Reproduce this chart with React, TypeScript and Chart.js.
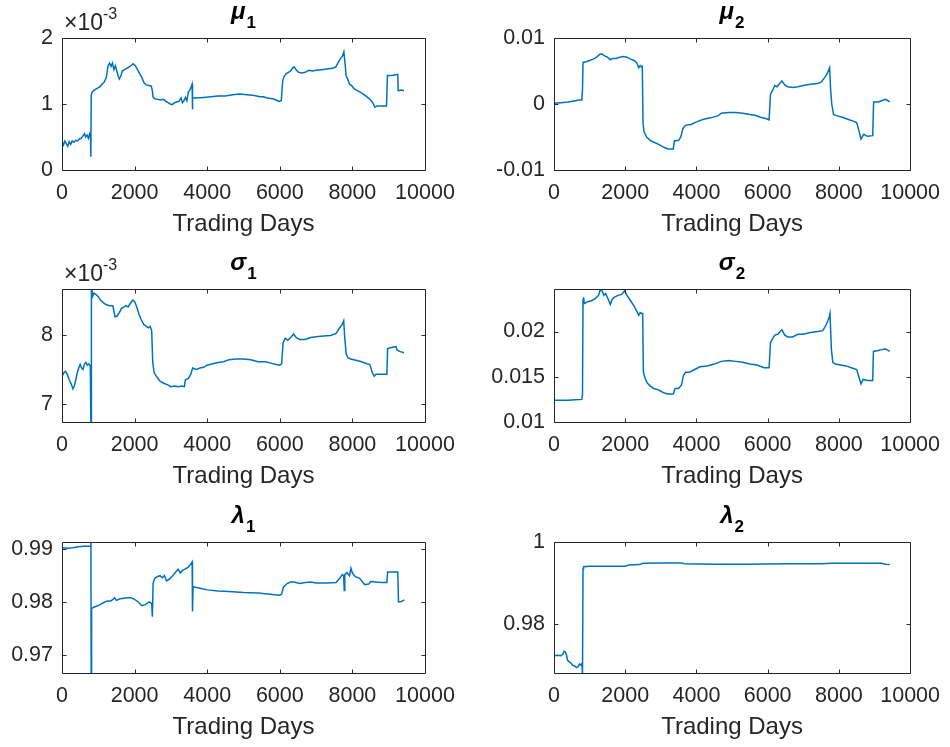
import React, { useEffect, useRef } from "react";
import { Chart, registerables } from "chart.js";

Chart.register(...registerables);

// ---------- shared axis data ----------
const xTicks = [0, 2000, 4000, 6000, 8000, 10000];
const xTickLabels = ["0", "2000", "4000", "6000", "8000", "10000"];
const xLabel = "Trading Days";

// ---------- mu_1 (values in units of 1e-3) ----------
const mu1Days = [0, 40, 80, 120, 160, 200, 240, 280, 330, 380, 430, 480, 530, 580, 620, 650, 690, 730, 760, 785, 795, 805, 830, 870, 920, 980, 1040, 1100, 1160, 1220, 1270, 1310, 1350, 1390, 1430, 1470, 1510, 1550, 1580, 1620, 1660, 1720, 1780, 1840, 1900, 1960, 2020, 2080, 2140, 2200, 2260, 2320, 2400, 2460, 2490, 2510, 2560, 2640, 2720, 2800, 2860, 2920, 2980, 3040, 3100, 3160, 3220, 3280, 3320, 3360, 3400, 3440, 3480, 3520, 3560, 3585, 3592, 3600, 3700, 3900, 4100, 4300, 4500, 4700, 4900, 5100, 5300, 5450, 5550, 5650, 5800, 5900, 5980, 6040, 6080, 6120, 6180, 6240, 6300, 6360, 6400, 6460, 6520, 6600, 6700, 6800, 6900, 7000, 7150, 7300, 7450, 7540, 7600, 7660, 7720, 7765, 7800, 7830, 7870, 7920, 7980, 8050, 8150, 8250, 8350, 8420, 8500, 8560, 8620, 8680, 8800, 8940, 8965, 9050, 9150, 9250, 9262, 9350, 9420];
const mu1Vals = [0.43, 0.38, 0.44, 0.40, 0.36, 0.43, 0.39, 0.44, 0.42, 0.45, 0.44, 0.47, 0.48, 0.52, 0.55, 0.50, 0.53, 0.48, 0.55, 0.52, 0.20, 1.13, 1.18, 1.20, 1.22, 1.24, 1.26, 1.30, 1.33, 1.40, 1.58, 1.62, 1.57, 1.62, 1.52, 1.58, 1.50, 1.42, 1.38, 1.42, 1.50, 1.52, 1.54, 1.56, 1.58, 1.61, 1.58, 1.52, 1.46, 1.40, 1.32, 1.29, 1.28, 1.27, 1.20, 1.10, 1.08, 1.07, 1.06, 1.07, 1.04, 1.02, 1.00, 0.99, 1.02, 1.03, 1.04, 1.09, 1.02, 1.05, 1.10, 1.05, 1.18, 1.21, 1.26, 1.30, 0.92, 1.09, 1.09, 1.10, 1.11, 1.12, 1.12, 1.14, 1.15, 1.14, 1.13, 1.11, 1.11, 1.09, 1.08, 1.06, 1.04, 1.05, 1.35, 1.42, 1.46, 1.48, 1.50, 1.55, 1.56, 1.51, 1.48, 1.47, 1.48, 1.51, 1.50, 1.51, 1.52, 1.53, 1.54, 1.56, 1.62, 1.68, 1.72, 1.79, 1.60, 1.42, 1.38, 1.30, 1.28, 1.23, 1.20, 1.17, 1.13, 1.10, 1.06, 1.02, 0.95, 0.97, 0.97, 0.97, 1.43, 1.43, 1.44, 1.45, 1.20, 1.21, 1.20];
const mu1Ticks = [0, 1, 2];
const mu1TickLabels = ["0", "1", "2"];

// ---------- mu_2 ----------
const mu2Days = [0, 200, 400, 600, 700, 780, 800, 815, 900, 1000, 1100, 1200, 1280, 1340, 1420, 1500, 1580, 1650, 1750, 1850, 1950, 2050, 2150, 2250, 2330, 2380, 2420, 2460, 2480, 2500, 2530, 2600, 2700, 2800, 2900, 3000, 3100, 3200, 3350, 3380, 3500, 3560, 3620, 3700, 3850, 4000, 4200, 4400, 4600, 4700, 4900, 5100, 5300, 5500, 5650, 5800, 5950, 6040, 6080, 6150, 6200, 6260, 6320, 6400, 6480, 6560, 6700, 6850, 7000, 7200, 7400, 7500, 7600, 7680, 7740, 7770, 7800, 7850, 7950, 8100, 8250, 8400, 8500, 8560, 8620, 8700, 8800, 8950, 8975, 9100, 9200, 9300, 9380, 9430];
const mu2Vals = [0.0001, 0.0002, 0.0003, 0.0005, 0.0006, 0.0006, 0.0021, 0.0063, 0.0064, 0.0066, 0.0068, 0.0071, 0.0075, 0.0076, 0.0073, 0.0071, 0.0067, 0.0069, 0.0069, 0.0071, 0.0072, 0.0071, 0.0068, 0.0066, 0.0062, 0.0055, 0.0058, 0.0056, 0.0057, -0.0030, -0.0042, -0.0050, -0.0055, -0.0058, -0.0060, -0.0063, -0.0066, -0.0068, -0.0068, -0.0056, -0.0055, -0.0050, -0.0037, -0.0032, -0.0031, -0.0027, -0.0023, -0.0021, -0.0018, -0.0014, -0.0013, -0.0013, -0.0014, -0.0016, -0.0017, -0.0020, -0.0022, -0.0024, 0.0015, 0.0022, 0.0028, 0.0026, 0.0030, 0.0035, 0.0029, 0.0026, 0.0025, 0.0026, 0.0028, 0.0030, 0.0031, 0.0033, 0.0040, 0.0047, 0.0055, 0.0020, 0.0000, -0.0016, -0.0018, -0.0020, -0.0023, -0.0026, -0.0028, -0.0040, -0.0053, -0.0046, -0.0049, -0.0048, 0.0003, 0.0003, 0.0005, 0.0007, 0.0005, 0.0003];
const mu2Ticks = [-0.01, 0, 0.01];
const mu2TickLabels = ["-0.01", "0", "0.01"];

// ---------- sigma_1 (values in units of 1e-3) ----------
const sigma1Days = [0, 50, 100, 150, 200, 260, 300, 340, 380, 420, 460, 500, 540, 580, 620, 660, 700, 740, 780, 800, 810, 840, 880, 940, 1000, 1060, 1120, 1200, 1300, 1400, 1460, 1520, 1580, 1640, 1700, 1760, 1820, 1880, 1950, 2000, 2060, 2120, 2180, 2250, 2320, 2380, 2430, 2470, 2500, 2540, 2600, 2700, 2800, 2900, 3000, 3100, 3200, 3300, 3370, 3400, 3480, 3540, 3600, 3700, 3800, 3900, 4000, 4150, 4300, 4450, 4600, 4800, 5000, 5200, 5400, 5600, 5750, 5900, 6000, 6050, 6090, 6150, 6220, 6300, 6380, 6450, 6550, 6700, 6850, 7000, 7200, 7400, 7550, 7650, 7720, 7760, 7790, 7830, 7880, 7950, 8100, 8250, 8400, 8480, 8550, 8600, 8650, 8800, 8950, 8970, 9100, 9200, 9230, 9300, 9420];
const sigma1Vals = [7.40, 7.45, 7.47, 7.42, 7.35, 7.28, 7.22, 7.26, 7.35, 7.45, 7.52, 7.57, 7.52, 7.50, 7.58, 7.60, 7.56, 7.58, 7.55, 6.50, 8.75, 8.55, 8.60, 8.58, 8.55, 8.50, 8.47, 8.44, 8.42, 8.42, 8.26, 8.27, 8.32, 8.38, 8.40, 8.42, 8.40, 8.45, 8.50, 8.48, 8.40, 8.30, 8.22, 8.15, 8.12, 8.10, 8.12, 8.06, 7.60, 7.45, 7.40, 7.33, 7.30, 7.28, 7.25, 7.26, 7.25, 7.26, 7.25, 7.35, 7.37, 7.42, 7.52, 7.50, 7.52, 7.53, 7.56, 7.58, 7.60, 7.61, 7.64, 7.65, 7.65, 7.64, 7.61, 7.61, 7.59, 7.57, 7.56, 7.58, 7.88, 7.95, 7.92, 7.96, 8.01, 7.96, 7.93, 7.93, 7.96, 7.97, 7.98, 7.99, 8.02, 8.10, 8.15, 8.20, 7.95, 7.72, 7.67, 7.65, 7.63, 7.61, 7.58, 7.57, 7.45, 7.40, 7.43, 7.43, 7.43, 7.80, 7.82, 7.83, 7.78, 7.76, 7.74];
const sigma1Ticks = [7, 8];
const sigma1TickLabels = ["7", "8"];

// ---------- sigma_2 ----------
const sigma2Days = [0, 200, 400, 600, 780, 800, 815, 830, 850, 950, 1050, 1150, 1250, 1300, 1350, 1400, 1450, 1520, 1580, 1640, 1700, 1800, 1900, 1980, 2050, 2150, 2250, 2330, 2380, 2420, 2460, 2490, 2510, 2560, 2620, 2700, 2800, 2900, 3000, 3100, 3200, 3350, 3400, 3500, 3580, 3640, 3700, 3800, 3950, 4100, 4300, 4500, 4700, 4900, 5100, 5300, 5500, 5700, 5900, 6040, 6080, 6150, 6200, 6280, 6400, 6480, 6560, 6700, 6850, 7000, 7200, 7400, 7550, 7650, 7720, 7750, 7790, 7830, 7900, 8050, 8200, 8350, 8500, 8560, 8620, 8680, 8800, 8950, 8970, 9100, 9200, 9300, 9430];
const sigma2Vals = [0.0124, 0.0124, 0.0124, 0.01245, 0.0125, 0.0130, 0.0235, 0.0238, 0.0231, 0.0233, 0.0234, 0.0236, 0.0240, 0.0246, 0.0245, 0.0240, 0.0242, 0.0236, 0.0230, 0.0236, 0.0238, 0.0240, 0.0241, 0.0245, 0.0240, 0.0234, 0.0228, 0.0222, 0.0218, 0.0221, 0.0220, 0.0220, 0.0155, 0.0148, 0.0143, 0.0140, 0.0137, 0.0136, 0.0134, 0.0132, 0.0131, 0.0131, 0.0137, 0.0137, 0.0141, 0.0152, 0.0155, 0.0155, 0.0158, 0.0161, 0.0162, 0.0164, 0.0167, 0.0168, 0.0167, 0.0166, 0.0164, 0.0163, 0.0160, 0.0160, 0.0188, 0.0193, 0.0196, 0.0197, 0.0202, 0.0196, 0.0194, 0.0194, 0.0197, 0.0197, 0.0199, 0.0200, 0.0201, 0.0208, 0.0215, 0.0220, 0.0180, 0.0166, 0.0164, 0.0163, 0.0162, 0.0160, 0.0158, 0.0150, 0.0142, 0.0147, 0.0146, 0.0146, 0.0178, 0.0179, 0.0180, 0.0181, 0.0178];
const sigma2Ticks = [0.01, 0.015, 0.02];
const sigma2TickLabels = ["0.01", "0.015", "0.02"];

// ---------- lambda_1 ----------
const lambda1Days = [0, 150, 300, 450, 600, 780, 795, 805, 815, 870, 950, 1050, 1150, 1250, 1350, 1450, 1500, 1600, 1700, 1800, 1900, 2000, 2100, 2200, 2300, 2400, 2470, 2490, 2510, 2560, 2620, 2700, 2760, 2820, 2880, 2950, 3050, 3120, 3200, 3260, 3320, 3400, 3480, 3560, 3585, 3595, 3610, 3800, 4000, 4300, 4600, 5000, 5400, 5800, 6000, 6050, 6100, 6200, 6300, 6400, 6550, 6700, 6850, 7000, 7300, 7550, 7650, 7720, 7760, 7775, 7790, 7850, 7920, 7960, 8000, 8080, 8200, 8280, 8340, 8450, 8500, 8650, 8800, 8950, 8970, 9100, 9250, 9270, 9350, 9430];
const lambda1Vals = [0.9903, 0.9902, 0.9903, 0.9905, 0.9906, 0.9906, 0.9950, 0.9600, 0.9787, 0.9790, 0.9792, 0.9795, 0.9799, 0.9802, 0.9802, 0.9808, 0.9803, 0.9806, 0.9807, 0.9808, 0.9808, 0.9805, 0.9800, 0.9793, 0.9795, 0.9800, 0.9797, 0.9772, 0.9836, 0.9845, 0.9848, 0.9850, 0.9846, 0.9850, 0.9840, 0.9843, 0.9850, 0.9856, 0.9862, 0.9855, 0.9860, 0.9863, 0.9866, 0.9873, 0.9876, 0.9782, 0.9829, 0.9826, 0.9823, 0.9821, 0.9820, 0.9818, 0.9817, 0.9814, 0.9813, 0.9815, 0.9828, 0.9835, 0.9838, 0.9838, 0.9835, 0.9837, 0.9838, 0.9836, 0.9836, 0.9837, 0.9845, 0.9852, 0.9850, 0.9822, 0.9852, 0.9856, 0.9850, 0.9864, 0.9855, 0.9848, 0.9845, 0.9838, 0.9833, 0.9834, 0.9839, 0.9838, 0.9837, 0.9837, 0.9857, 0.9857, 0.9857, 0.9800, 0.9801, 0.9804];
const lambda1Ticks = [0.97, 0.98, 0.99];
const lambda1TickLabels = ["0.97", "0.98", "0.99"];

// ---------- lambda_2 ----------
const lambda2Days = [0, 100, 200, 250, 280, 320, 350, 380, 430, 480, 520, 580, 630, 680, 720, 760, 790, 800, 815, 830, 1000, 1500, 2000, 2100, 2400, 2500, 3000, 3600, 3650, 4500, 5500, 6500, 7500, 7800, 8500, 9200, 9300, 9430];
const lambda2Vals = [0.9723, 0.9724, 0.9723, 0.9727, 0.9734, 0.9732, 0.9725, 0.9712, 0.9708, 0.9705, 0.9700, 0.9698, 0.9694, 0.9697, 0.9703, 0.9700, 0.9705, 0.9670, 0.9935, 0.9940, 0.9941, 0.9941, 0.9941, 0.9944, 0.9945, 0.9948, 0.9949, 0.9949, 0.9947, 0.9946, 0.9946, 0.9947, 0.9947, 0.9948, 0.9948, 0.9948, 0.9946, 0.9945];
const lambda2Ticks = [0.98, 1];
const lambda2TickLabels = ["0.98", "1"];

// ---------- panel definitions ----------
type Panel = {
  greek: string;
  sub: string;
  days: number[];
  vals: number[];
  yMin: number;
  yMax: number;
  yTicks: number[];
  yTickLabels: string[];
  exponent?: string;
  box: [number, number, number, number]; // left, top, right, bottom of plot area
};

const W = 950;
const H = 747;
const COL1: [number, number] = [62, 425];
const COL2: [number, number] = [554, 918];
const ROW1: [number, number] = [38, 170];
const ROW2: [number, number] = [289, 422];
const ROW3: [number, number] = [542, 673];

const panels: Panel[] = [
  { greek: "μ", sub: "1", days: mu1Days, vals: mu1Vals, yMin: 0, yMax: 2, yTicks: mu1Ticks, yTickLabels: mu1TickLabels, exponent: "-3", box: [COL1[0], ROW1[0], COL1[1], ROW1[1]] },
  { greek: "μ", sub: "2", days: mu2Days, vals: mu2Vals, yMin: -0.01, yMax: 0.01, yTicks: mu2Ticks, yTickLabels: mu2TickLabels, box: [COL2[0], ROW1[0], COL2[1], ROW1[1]] },
  { greek: "σ", sub: "1", days: sigma1Days, vals: sigma1Vals, yMin: 6.74, yMax: 8.66, yTicks: sigma1Ticks, yTickLabels: sigma1TickLabels, exponent: "-3", box: [COL1[0], ROW2[0], COL1[1], ROW2[1]] },
  { greek: "σ", sub: "2", days: sigma2Days, vals: sigma2Vals, yMin: 0.01, yMax: 0.0247, yTicks: sigma2Ticks, yTickLabels: sigma2TickLabels, box: [COL2[0], ROW2[0], COL2[1], ROW2[1]] },
  { greek: "λ", sub: "1", days: lambda1Days, vals: lambda1Vals, yMin: 0.9665, yMax: 0.9914, yTicks: lambda1Ticks, yTickLabels: lambda1TickLabels, box: [COL1[0], ROW3[0], COL1[1], ROW3[1]] },
  { greek: "λ", sub: "2", days: lambda2Days, vals: lambda2Vals, yMin: 0.9681, yMax: 1, yTicks: lambda2Ticks, yTickLabels: lambda2TickLabels, box: [COL2[0], ROW3[0], COL2[1], ROW3[1]] },
];

const FONT = '"Liberation Sans", Arial, Helvetica, sans-serif';
const AXIS_COLOR = "#262626";
const LINE_COLOR = "#0072BD";
const X_AXIS_H = 69;
const TICK_LEN = 4;

const matlabAxes = {
  id: "matlabAxes",
  afterDraw(chart: any) {
    const p: Panel = chart.options.plugins.matlabAxes.panel;
    const ctx = chart.ctx;
    const a = chart.chartArea;
    const xs = chart.scales.x;
    const ys = chart.scales.y;
    const l = Math.round(a.left) + 0.5;
    const r = Math.round(a.right) + 0.5;
    const t = Math.round(a.top) + 0.5;
    const b = Math.round(a.bottom) + 0.5;
    ctx.save();
    ctx.strokeStyle = AXIS_COLOR;
    ctx.lineWidth = 1;
    ctx.beginPath();
    ctx.rect(l, t, r - l, b - t);
    for (const tk of xs.ticks) {
      const px = Math.round(xs.getPixelForValue(tk.value)) + 0.5;
      ctx.moveTo(px, b);
      ctx.lineTo(px, b - TICK_LEN);
      ctx.moveTo(px, t);
      ctx.lineTo(px, t + TICK_LEN);
    }
    for (const tk of ys.ticks) {
      const py = Math.round(ys.getPixelForValue(tk.value)) + 0.5;
      ctx.moveTo(l, py);
      ctx.lineTo(l + TICK_LEN, py);
      ctx.moveTo(r, py);
      ctx.lineTo(r - TICK_LEN, py);
    }
    ctx.stroke();

    // title: greek letter with subscript
    const cx = (a.left + a.right) / 2;
    ctx.fillStyle = "#000";
    ctx.textBaseline = "alphabetic";
    ctx.textAlign = "left";
    const gFont = `italic bold 24px ${FONT}`;
    const sFont = `bold 17px ${FONT}`;
    ctx.font = gFont;
    const gw = ctx.measureText(p.greek).width;
    ctx.font = sFont;
    const sw = ctx.measureText(p.sub).width;
    const x0 = cx - (gw + sw + 1) / 2;
    ctx.font = gFont;
    ctx.fillText(p.greek, x0, a.top - 19);
    ctx.font = sFont;
    ctx.fillText(p.sub, x0 + gw + 1, a.top - 10);

    // exponent label
    if (p.exponent) {
      ctx.fillStyle = AXIS_COLOR;
      ctx.font = `23px ${FONT}`;
      const base = "×10";
      ctx.fillText(base, a.left + 2, a.top - 8);
      const bw = ctx.measureText(base).width;
      ctx.font = `16px ${FONT}`;
      ctx.fillText(p.exponent, a.left + 2 + bw, a.top - 19);
    }
    ctx.restore();
  },
};

function PanelChart({ panel }: { panel: Panel }) {
  const ref = useRef<HTMLCanvasElement | null>(null);
  useEffect(() => {
    if (!ref.current) return;
    const [l, t, r, b] = panel.box;
    const yAxisW = Math.min(l, 95);
    const points = panel.days.map((d, i) => ({ x: d, y: panel.vals[i] }));
    const chart = new Chart(ref.current, {
      type: "line",
      data: {
        datasets: [
          {
            data: points,
            borderColor: LINE_COLOR,
            borderWidth: 1.5,
            pointRadius: 0,
            tension: 0,
            fill: false,
          },
        ],
      },
      plugins: [matlabAxes],
      options: {
        responsive: false,
        animation: false,
        devicePixelRatio: 1,
        events: [],
        layout: {
          padding: {
            left: l - yAxisW,
            top: t,
            right: W - r,
            bottom: H - b - X_AXIS_H,
          },
        },
        plugins: {
          legend: { display: false },
          tooltip: { enabled: false },
          title: { display: false },
          matlabAxes: { panel },
        } as any,
        scales: {
          x: {
            type: "linear",
            min: 0,
            max: 10000,
            bounds: "data",
            afterBuildTicks: (s: any) => {
              s.ticks = xTicks.map((v) => ({ value: v }));
            },
            afterFit: (s: any) => {
              s.height = X_AXIS_H;
            },
            grid: { display: false, drawTicks: false },
            border: { display: false },
            ticks: {
              padding: 10,
              autoSkip: false,
              maxRotation: 0,
              minRotation: 0,
              color: AXIS_COLOR,
              font: { family: FONT, size: 21.5 },
              callback: (_v: any, i: number) => xTickLabels[i],
            },
            title: {
              display: true,
              text: xLabel,
              color: AXIS_COLOR,
              font: { family: FONT, size: 24 },
              padding: 0,
            },
          },
          y: {
            type: "linear",
            min: panel.yMin,
            max: panel.yMax,
            bounds: "data",
            afterBuildTicks: (s: any) => {
              s.ticks = panel.yTicks.map((v) => ({ value: v }));
            },
            afterFit: (s: any) => {
              s.width = yAxisW;
            },
            grid: { display: false, drawTicks: false },
            border: { display: false },
            ticks: {
              padding: 9,
              color: AXIS_COLOR,
              font: { family: FONT, size: 21.5 },
              callback: (_v: any, i: number) => panel.yTickLabels[i],
            },
          },
        },
      } as any,
    });
    return () => chart.destroy();
  }, [panel]);
  return (
    <canvas
      ref={ref}
      width={W}
      height={H}
      style={{ position: "absolute", left: 0, top: 0, width: W, height: H }}
    />
  );
}

export default function App() {
  return (
    <div
      style={{
        position: "fixed",
        left: 0,
        top: 0,
        width: W,
        height: H,
        background: "#ffffff",
        overflow: "hidden",
      }}
    >
      {panels.map((p, i) => (
        <PanelChart key={i} panel={p} />
      ))}
    </div>
  );
}
